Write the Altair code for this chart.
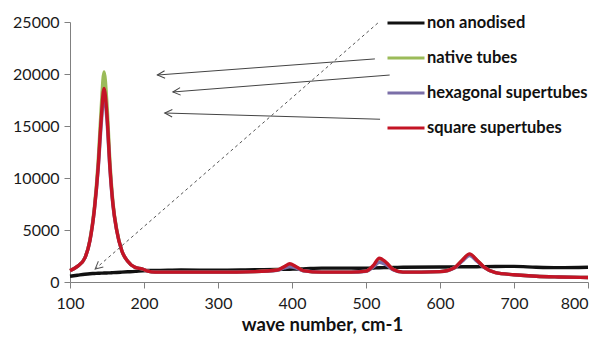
import altair as alt
import pandas as pd

# ---- data ----
wave = [100, 110, 120, 127, 133, 138, 142, 146, 150, 154, 158, 163, 170, 178, 188,
        198, 205, 215, 250, 300, 350, 380, 390, 397, 405, 415, 440, 480, 500, 510,
        518, 527, 537, 550, 600, 620, 630, 640, 650, 660, 675, 700, 730, 760, 800]

non_anodised = [550, 650, 750, 800, 820, 840, 850, 860, 870, 880, 900, 920, 950, 980, 1020,
                1080, 1100, 1100, 1150, 1130, 1180, 1200, 1220, 1230, 1240, 1260, 1330, 1330, 1320, 1350,
                1370, 1380, 1390, 1420, 1440, 1450, 1460, 1460, 1470, 1480, 1490, 1500, 1420, 1380, 1420]

native_tubes = [1100, 1500, 2300, 4100, 7200, 11500, 16500, 20200, 17000, 11500, 7700, 5100, 3000, 2000, 1400,
                1250, 1050, 950, 950, 950, 1000, 1150, 1450, 1650, 1450, 1100, 950, 950, 1050, 1550,
                2200, 1850, 1200, 950, 1000, 1400, 2100, 2650, 2100, 1400, 900, 700, 550, 480, 430]

hexagonal_supertubes = [1100, 1500, 2300, 4000, 7000, 10800, 15000, 18000, 15500, 10800, 7400, 5000, 3000, 2000, 1400,
                        1250, 1050, 950, 950, 950, 1000, 1120, 1350, 1450, 1350, 1080, 950, 950, 1030, 1450,
                        1900, 1650, 1150, 950, 1000, 1380, 2000, 2550, 2000, 1380, 900, 700, 550, 480, 430]

square_supertubes = [1100, 1500, 2300, 4000, 7000, 11000, 15500, 18600, 16000, 11000, 7500, 5000, 3000, 2000, 1400,
                     1250, 1050, 950, 950, 950, 1000, 1150, 1500, 1750, 1500, 1100, 950, 950, 1050, 1600,
                     2300, 1900, 1200, 950, 1000, 1400, 2100, 2700, 2100, 1400, 900, 700, 550, 480, 430]

series_names = ["non anodised", "native tubes", "hexagonal supertubes", "square supertubes"]
series_colors = ["#111111", "#9BBB59", "#7B6FA8", "#C41425"]

# annotation arrows (data units)
arrow_x1 = [512, 532, 519]
arrow_y1 = [21450, 19900, 15650]
arrow_x2 = [218, 239, 228]
arrow_y2 = [19900, 18270, 16250]
arrow_angle = [355.8, 355.5, 1.6]

dash_x1 = [516]
dash_y1 = [24900]
dash_x2 = [134]
dash_y2 = [1250]
dash_angle = [319]

# ---- build tables ----
rows = []
for name, vals in zip(series_names, [non_anodised, native_tubes, hexagonal_supertubes, square_supertubes]):
    for w, v in zip(wave, vals):
        rows.append({"wave": w, "value": v, "series": name})
df = pd.DataFrame(rows)

arrows = pd.DataFrame({"x1": arrow_x1, "y1": arrow_y1, "x2": arrow_x2, "y2": arrow_y2, "angle": arrow_angle})
dashed = pd.DataFrame({"x1": dash_x1, "y1": dash_y1, "x2": dash_x2, "y2": dash_y2, "angle": dash_angle})

xscale = alt.Scale(domain=[100, 800], nice=False, zero=False)
yscale = alt.Scale(domain=[0, 25000], nice=False)

color = alt.Color(
    "series:N",
    scale=alt.Scale(domain=series_names, range=series_colors),
    sort=series_names,
    legend=alt.Legend(
        title=None,
        orient="none",
        legendX=316,
        legendY=-19,
        symbolType="stroke",
        symbolSize=1369,
        symbolStrokeWidth=3,
        labelFont="Lato",
        labelFontSize=16.5,
        labelFontWeight="bold",
        labelColor="#111111",
        labelOffset=1,
        labelLimit=400,
        rowPadding=6,
    ),
)

x_enc = alt.X(
    "wave:Q", scale=xscale,
    axis=alt.Axis(values=list(range(100, 801, 100)), title="wave number, cm-1", grid=False,
                  labelFlush=False, labelPadding=7, titlePadding=4, titleX=252,
                  labelAlign={"expr": "datum.value == 800 ? 'right' : 'center'"}),
)
y_enc = alt.Y(
    "value:Q", scale=yscale,
    axis=alt.Axis(values=list(range(0, 25001, 5000)), title=None, grid=False, format="d",
                  labelFlush=False, labelPadding=5),
)

layers = []
for name in series_names:
    layers.append(
        alt.Chart(df).transform_filter(alt.datum.series == name)
        .mark_line(strokeWidth=3.4, interpolate="monotone")
        .encode(x=x_enc, y=y_enc, color=color)
    )

arrow_lines = alt.Chart(arrows).mark_rule(color="#444444", strokeWidth=1).encode(
    x=alt.X("x1:Q", scale=xscale), y=alt.Y("y1:Q", scale=yscale), x2="x2:Q", y2="y2:Q")
arrow_heads = alt.Chart(arrows).mark_point(
    shape="M1.8,-0.9L0,0L1.8,0.9", filled=False, color="#444444", strokeWidth=1, size=70, opacity=1
).encode(x=alt.X("x2:Q", scale=xscale), y=alt.Y("y2:Q", scale=yscale), angle=alt.Angle("angle:Q", scale=None))

dash_line = alt.Chart(dashed).mark_rule(color="#555555", strokeWidth=1, strokeDash=[3, 3]).encode(
    x=alt.X("x1:Q", scale=xscale), y=alt.Y("y1:Q", scale=yscale), x2="x2:Q", y2="y2:Q")
dash_head = alt.Chart(dashed).mark_point(
    shape="M1.8,-0.9L0,0L1.8,0.9", filled=False, color="#555555", strokeWidth=1, size=70, opacity=1
).encode(x=alt.X("x2:Q", scale=xscale), y=alt.Y("y2:Q", scale=yscale), angle=alt.Angle("angle:Q", scale=None))

chart = alt.layer(*layers, arrow_lines, arrow_heads, dash_line, dash_head).properties(
    width=518, height=260,
    background="white",
    autosize=alt.AutoSizeParams(type="none"),
    padding={"left": 62, "top": 14, "right": 6, "bottom": 58},
).configure_view(stroke=None).configure_axis(
    domainColor="#808080", tickColor="#808080", tickSize=6,
    labelFont="Lato", labelFontSize=16, labelColor="#1a1a1a",
    titleFont="Lato", titleFontSize=18.5, titleFontWeight="bold", titleColor="#111111",
)

chart.save("out.html", embed_options={"renderer": "svg", "actions": False})
